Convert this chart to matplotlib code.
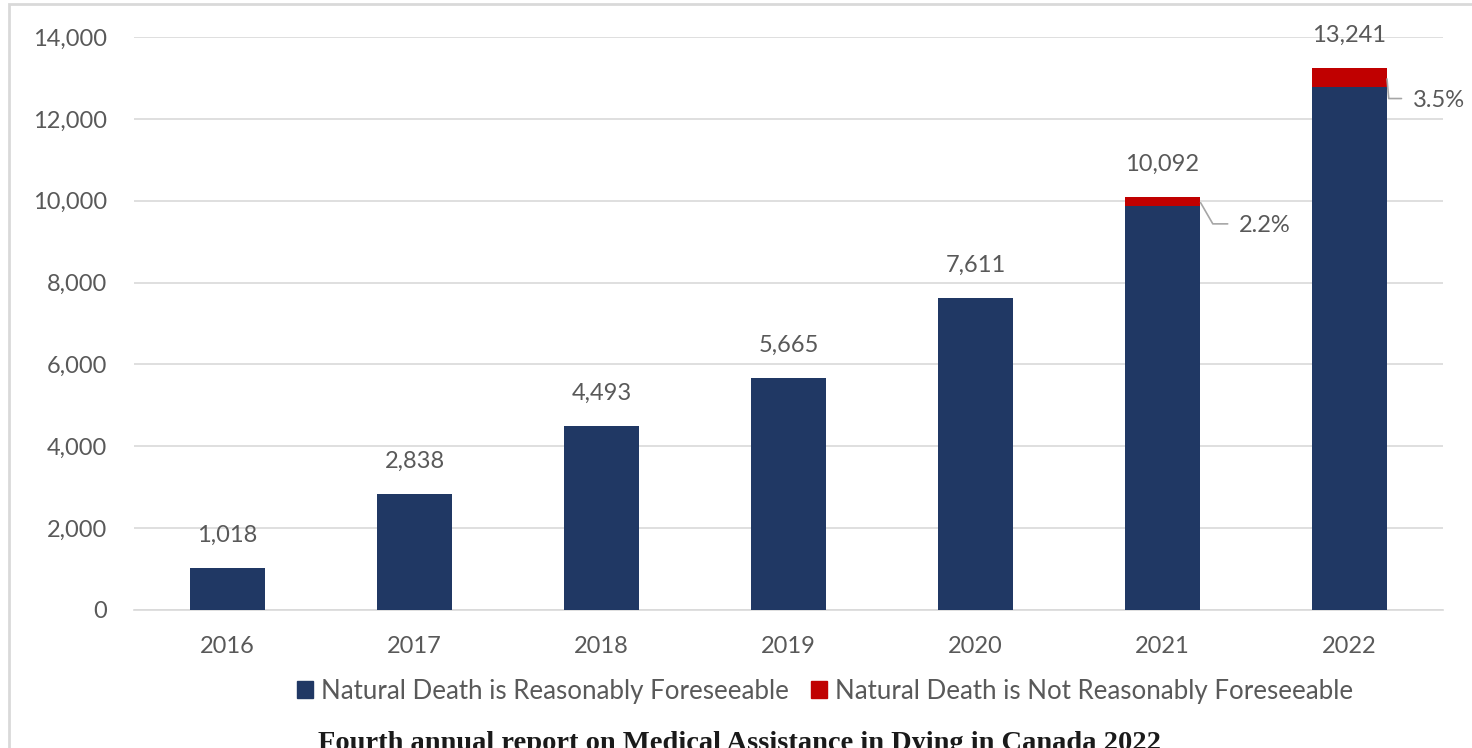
# ------------------
# package import
# ------------------
import matplotlib
matplotlib.use('Agg')
import matplotlib.pyplot as plt
from matplotlib import rc
from matplotlib.patches import Rectangle, Patch
import numpy as np

# ----------------
# data
# ----------------
years = ['2016', '2017', '2018', '2019', '2020', '2021', '2022']
totals = [1018, 2838, 4493, 5665, 7611, 10092, 13241]
# share of "not reasonably foreseeable" cases (only reported for 2021, 2022)
notForeseeablePct = [0.0, 0.0, 0.0, 0.0, 0.0, 2.2, 3.5]

notForeseeable = [t * p / 100.0 for t, p in zip(totals, notForeseeablePct)]
foreseeable = [t - n for t, n in zip(totals, notForeseeable)]

# leader line style per labelled bar: (text offset x, text offset y, angle at bar)
leaderStyle = {5: (28, -22, -60), 6: (18.5, -21, -85)}

# ----------------
# plot
# ----------------
rc('font', **{'family': 'Lato', 'size': 17})
txtCol = '#595959'
blue = '#203864'
red = '#C00000'

fig = plt.figure(figsize=(14.72, 7.48), dpi=100)
ax = fig.add_axes([134 / 1472, 1 - 610 / 748, 1309 / 1472, 573 / 748])

x = np.arange(len(years))
ax.bar(x, foreseeable, width=0.4, color=blue, zorder=3,
       label='Natural Death is Reasonably Foreseeable')
ax.bar(x, notForeseeable, width=0.4, bottom=foreseeable, color=red, zorder=3,
       label='Natural Death is Not Reasonably Foreseeable')

# total labels above bars
for xi, t in zip(x, totals):
    ax.annotate('{:,}'.format(t), (xi, t), xytext=(0, 19), textcoords='offset points',
                ha='center', va='baseline', color=txtCol, fontsize=17)

# percentage labels with leader lines
for xi, p, f, n in zip(x, notForeseeablePct, foreseeable, notForeseeable):
    if p <= 0:
        continue
    dx, dy, ang = leaderStyle[xi]
    yMid = f + n / 2.0
    ax.annotate('{:.1f}%'.format(p), (xi + 0.2, yMid), xytext=(dx, dy),
                textcoords='offset points', ha='left', va='baseline',
                color=txtCol, fontsize=17,
                arrowprops=dict(arrowstyle='-', color='#A6A6A6', lw=1.2,
                                connectionstyle='angle,angleA=0,angleB={},rad=0'.format(ang),
                                relpos=(0, 0.58), shrinkA=6, shrinkB=1))

ax.set_xlim(-0.5, 6.5)
ax.set_ylim(0, 14000)
ax.set_yticks(np.arange(0, 14001, 2000))
ax.set_yticklabels(['{:,}'.format(v) for v in range(0, 14001, 2000)])
ax.set_xticks(x)
ax.set_xticklabels(years)
ax.tick_params(axis='both', length=0, colors=txtCol, labelsize=17)
ax.tick_params(axis='y', pad=19.5)
ax.tick_params(axis='x', pad=19)
ax.grid(axis='y', color='#D9D9D9', lw=1.2, zorder=0)
for s in ['top', 'right', 'left']:
    ax.spines[s].set_visible(False)
ax.spines['bottom'].set_color('#D9D9D9')
ax.spines['bottom'].set_linewidth(1.2)

handles = [Patch(color=blue), Patch(color=red)]
fig.legend(handles, ['Natural Death is Reasonably Foreseeable',
                     'Natural Death is Not Reasonably Foreseeable'],
           loc='center', bbox_to_anchor=(0.5604, 0.0762), ncol=2, frameon=False,
           handlelength=0.62, handleheight=0.62, handletextpad=0.32,
           columnspacing=0.84, fontsize=18.6, labelcolor=txtCol,
           borderpad=0, borderaxespad=0)

fig.text(0.5025, -2 / 748, 'Fourth annual report on Medical Assistance in Dying in Canada 2022',
         ha='center', va='baseline', fontsize=20.5, fontweight='bold',
         family='Liberation Serif', color='#1a1a1a')

# light frame around the chart
fig.patches.append(Rectangle((9 / 1472, -0.1), 2.0, 1 - 4 / 748 + 0.1,
                             transform=fig.transFigure, fill=False,
                             edgecolor='#D9D9D9', lw=2, clip_on=False))

fig.savefig('out.png', dpi=100)
